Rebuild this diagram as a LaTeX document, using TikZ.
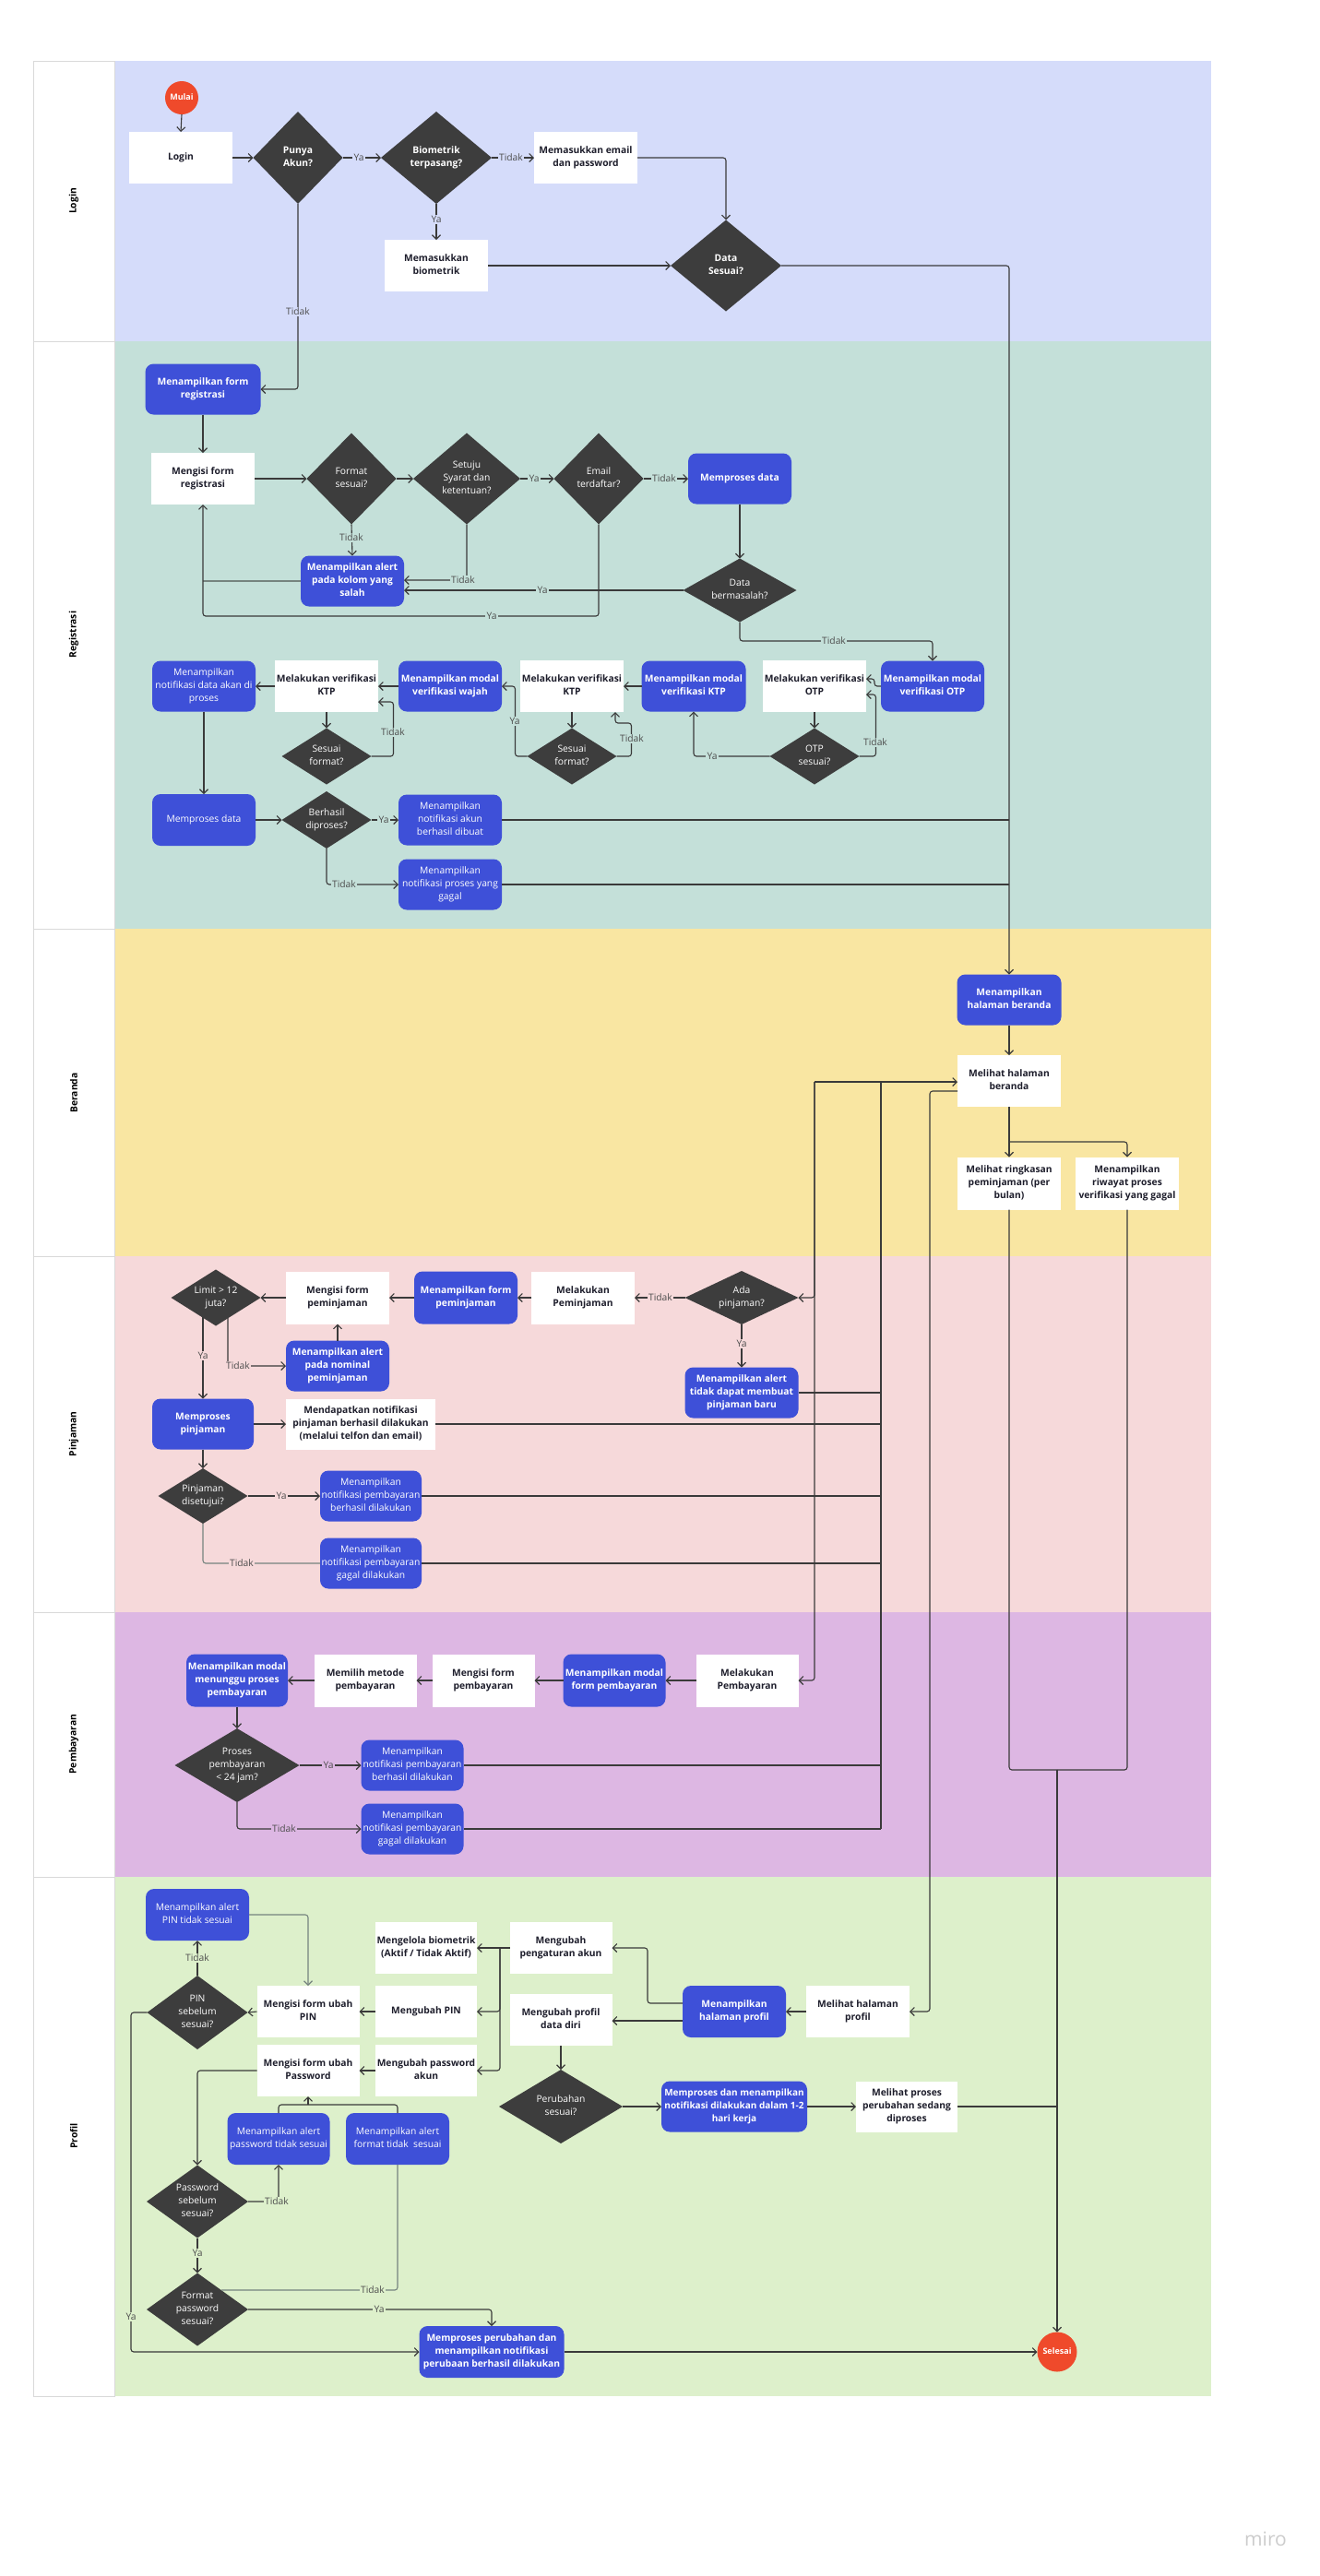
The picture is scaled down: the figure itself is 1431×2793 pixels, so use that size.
\documentclass[tikz,border=0pt]{standalone}
\usepackage{fontspec}
\setmainfont{Open Sans}
\usetikzlibrary{arrows.meta,shapes.geometric}

\definecolor{cLogin}{HTML}{D5DCFA}
\definecolor{cReg}{HTML}{C4E0D9}
\definecolor{cBer}{HTML}{F9E6A2}
\definecolor{cPin}{HTML}{F6D9DA}
\definecolor{cBay}{HTML}{DDB7E3}
\definecolor{cPro}{HTML}{DDF0CB}
\definecolor{cBlue}{HTML}{3E50D8}
\definecolor{cDia}{HTML}{3D3D3D}
\definecolor{cRed}{HTML}{EF4A2B}
\definecolor{cLine}{HTML}{3A3A3A}
\definecolor{cLite}{HTML}{76847F}
\definecolor{cTxt}{HTML}{1E1E2C}
\definecolor{cLbl}{HTML}{4D4D4D}

\newcommand\myfs{\fontsize{10.3}{14}\selectfont}
\newcommand\dtx[1]{\makebox[0pt]{\smash{\raisebox{-2.6pt}{\begin{tabular}{@{}c@{}}#1\end{tabular}}}}}

\tikzset{
  base/.style={inner sep=0pt, outer sep=0pt},
  wbox/.style={base, rectangle, fill=white, text=cTxt, font=\myfs\bfseries, minimum width=112pt, minimum height=56pt},
  bbox/.style={base, rectangle, rounded corners=9pt, fill=cBlue, text=white, font=\myfs\bfseries, minimum width=112pt, minimum height=55pt},
  bboxr/.style={bbox, font=\myfs},
  dia/.style={base, diamond, fill=cDia, text=white, font=\myfs},
  diab/.style={dia, font=\myfs\bfseries},
  circ/.style={base, circle, fill=cRed, text=white, font=\fontsize{9}{12}\selectfont\bfseries},
  ln/.style={draw=cLine, line width=1.1pt, rounded corners=3pt},
  arr/.style={ln, -{Straight Barb[length=4.5pt,width=9pt,line width=1.1pt]}},
  lite/.style={draw=cLite},
  lbl/.style={fill=#1, text=cLbl, font=\myfs, inner sep=1.2pt},
  lanelbl/.style={rotate=90, font=\myfs\bfseries, text=black},
}

\begin{document}
\begin{tikzpicture}[x=1pt,y=-1pt]
\useasboundingbox (0,0) rectangle (1431,2793);
\fill[white] (0,0) rectangle (1431,2793);

% lanes
\fill[cLogin] (124,66) rectangle (1313,370);
\fill[cReg] (124,370) rectangle (1313,1007);
\fill[cBer] (124,1007) rectangle (1313,1362);
\fill[cPin] (124,1362) rectangle (1313,1748);
\fill[cBay] (124,1748) rectangle (1313,2035);
\fill[cPro] (124,2035) rectangle (1313,2598);
\draw[gray!30, line width=0.6pt] (36,66) rectangle (124,2598);
\foreach \yy in {370,1007,1362,1748,2035} \draw[gray!30, line width=0.6pt] (36,\yy) -- (124,\yy);
\node[lanelbl] (lLogin) at (80,218) {Login};
\node[lanelbl] (lReg) at (80,688) {Registrasi};
\node[lanelbl] (lBer) at (80,1185) {Beranda};
\node[lanelbl] (lPin) at (80,1555) {Pinjaman};
\node[lanelbl] (lBay) at (80,1891) {Pembayaran};
\node[lanelbl] (lPro) at (80,2316) {Profil};

% ---------- Login nodes
\node[circ, minimum size=36pt] (mulai) at (197,106) {\dtx{Mulai}};
\node[wbox] (login) at (196,171) {\dtx{Login}};
\node[diab, minimum width=97pt, minimum height=100pt] (punya) at (323,171) {\dtx{Punya\\Akun?}};
\node[diab, minimum width=120pt, minimum height=100pt] (bio) at (473,171) {\dtx{Biometrik\\terpasang?}};
\node[wbox] (email) at (635,171) {\dtx{Memasukkan email\\dan password}};
\node[wbox] (mbio) at (473,288) {\dtx{Memasukkan\\biometrik}};
\node[diab, minimum width=120pt, minimum height=99pt] (datasesuai) at (787,288) {\dtx{Data\\Sesuai?}};

% ---------- Registrasi nodes
\node[bbox, minimum width=125pt] (formreg) at (220,422) {\dtx{Menampilkan form\\registrasi}};
\node[wbox] (isireg) at (220,519) {\dtx{Mengisi form\\registrasi}};
\node[dia, minimum width=97pt, minimum height=99pt] (fmt) at (381,519) {\dtx{Format\\sesuai?}};
\node[dia, minimum width=116pt, minimum height=99pt] (setuju) at (506,519) {\dtx{Setuju\\Syarat dan\\ketentuan?}};
\node[dia, minimum width=97pt, minimum height=99pt] (emailt) at (649,519) {\dtx{Email\\terdaftar?}};
\node[bbox] (alertkol) at (382,630) {\dtx{Menampilkan alert\\pada kolom yang\\salah}};
\node[bbox] (proses1) at (802,519) {\dtx{Memproses data}};
\node[dia, minimum width=123pt, minimum height=69pt] (bermasalah) at (802,640) {\dtx{Data\\bermasalah?}};

\node[bboxr] (notifdata) at (221,744) {\dtx{Menampilkan\\notifikasi data akan di\\proses}};
\node[wbox] (ktp1) at (354,744) {\dtx{Melakukan verifikasi\\KTP}};
\node[bbox] (wajah) at (488,744) {\dtx{Menampilkan modal\\verifikasi wajah}};
\node[wbox] (ktp2) at (620,744) {\dtx{Melakukan verifikasi\\KTP}};
\node[bbox, minimum width=113pt] (ktpmodal) at (752,744) {\dtx{Menampilkan modal\\verifikasi KTP}};
\node[wbox] (otp) at (883,744) {\dtx{Melakukan verifikasi\\OTP}};
\node[bbox] (otpmodal) at (1011,744) {\dtx{Menampilkan modal\\verifikasi OTP}};
\node[dia, minimum width=97pt, minimum height=61pt] (sf1) at (354,820) {\dtx{Sesuai\\format?}};
\node[dia, minimum width=97pt, minimum height=61pt] (sf2) at (620,820) {\dtx{Sesuai\\format?}};
\node[dia, minimum width=97pt, minimum height=61pt] (otps) at (883,820) {\dtx{OTP\\sesuai?}};
\node[bboxr, minimum height=56pt] (proses2) at (221,889) {\dtx{Memproses data}};
\node[dia, minimum width=97pt, minimum height=62pt] (berhasil) at (354,889) {\dtx{Berhasil\\diproses?}};
\node[bboxr] (akunok) at (488,889) {\dtx{Menampilkan\\notifikasi akun\\berhasil dibuat}};
\node[bboxr] (gagalreg) at (488,959) {\dtx{Menampilkan\\notifikasi proses yang\\gagal}};

% ---------- Beranda nodes
\node[bbox, minimum width=113pt] (beranda1) at (1094,1084) {\dtx{Menampilkan\\halaman beranda}};
\node[wbox] (beranda2) at (1094,1172) {\dtx{Melihat halaman\\beranda}};
\node[wbox, minimum height=57pt] (ringkas) at (1094,1283) {\dtx{Melihat ringkasan\\peminjaman (per\\bulan)}};
\node[wbox, minimum height=57pt] (riwayat) at (1222,1283) {\dtx{Menampilkan\\riwayat proses\\verifikasi yang gagal}};

% ---------- Pinjaman nodes
\node[dia, minimum width=123pt, minimum height=58pt] (ada) at (804,1407) {\dtx{Ada\\pinjaman?}};
\node[wbox, minimum height=57pt] (lakpinj) at (632,1407) {\dtx{Melakukan\\Peminjaman}};
\node[bbox, minimum height=57pt] (formpinj) at (505,1407) {\dtx{Menampilkan form\\peminjaman}};
\node[wbox, minimum height=57pt] (isipinj) at (366,1407) {\dtx{Mengisi form\\peminjaman}};
\node[dia, minimum width=97pt, minimum height=61pt] (limit) at (234,1407) {\dtx{Limit > 12\\juta?}};
\node[bbox] (alertnom) at (366,1481) {\dtx{Menampilkan alert\\pada nominal\\peminjaman}};
\node[bbox, minimum width=123pt] (alertpin) at (804,1510) {\dtx{Menampilkan alert\\tidak dapat membuat\\pinjaman baru}};
\node[bbox, minimum width=110pt] (prospinj) at (220,1544) {\dtx{Memproses\\pinjaman}};
\node[wbox, minimum width=162pt, minimum height=55pt] (dapatnotif) at (391,1544) {\dtx{Mendapatkan notifikasi\\pinjaman berhasil dilakukan\\(melalui telfon dan email)}};
\node[dia, minimum width=97pt, minimum height=60pt] (setujui) at (220,1622) {\dtx{Pinjaman\\disetujui?}};
\node[bboxr, minimum width=110pt] (bayarok1) at (402,1622) {\dtx{Menampilkan\\notifikasi pembayaran\\berhasil dilakukan}};
\node[bboxr, minimum width=110pt] (bayarno1) at (402,1695) {\dtx{Menampilkan\\notifikasi pembayaran\\gagal dilakukan}};

% ---------- Pembayaran nodes
\node[wbox, minimum width=111pt, minimum height=57pt] (mbayar) at (810,1822) {\dtx{Melakukan\\Pembayaran}};
\node[bbox, minimum width=111pt, minimum height=57pt] (modalbayar) at (666,1822) {\dtx{Menampilkan modal\\form pembayaran}};
\node[wbox, minimum width=111pt, minimum height=57pt] (isibayar) at (524,1822) {\dtx{Mengisi form\\pembayaran}};
\node[wbox, minimum width=111pt, minimum height=57pt] (metode) at (396,1822) {\dtx{Memilih metode\\pembayaran}};
\node[bbox, minimum width=110pt, minimum height=57pt] (tunggu) at (257,1822) {\dtx{Menampilkan modal\\menunggu proses\\pembayaran}};
\node[dia, minimum width=135pt, minimum height=80pt] (proses24) at (257,1914) {\dtx{Proses\\pembayaran\\< 24 jam?}};
\node[bboxr, minimum width=111pt] (bayarok2) at (447,1914) {\dtx{Menampilkan\\notifikasi pembayaran\\berhasil dilakukan}};
\node[bboxr, minimum width=111pt] (bayarno2) at (447,1983) {\dtx{Menampilkan\\notifikasi pembayaran\\gagal dilakukan}};

% ---------- Profil nodes
\node[bboxr, minimum height=56pt] (alertpinprof) at (214,2076) {\dtx{Menampilkan alert\\PIN tidak sesuai}};
\node[wbox, minimum width=110pt] (biom) at (462,2112) {\dtx{Mengelola biometrik\\(Aktif / Tidak Aktif)}};
\node[wbox, minimum width=111pt] (pengaturan) at (608,2112) {\dtx{Mengubah\\pengaturan akun}};
\node[wbox, minimum width=111pt] (isipin) at (334,2181) {\dtx{Mengisi form ubah\\PIN}};
\node[wbox, minimum width=110pt] (ubahpin) at (462,2181) {\dtx{Mengubah PIN}};
\node[wbox, minimum width=111pt] (profildiri) at (608,2190) {\dtx{Mengubah profil\\data diri}};
\node[bbox, minimum height=56pt] (halprofil) at (796,2181) {\dtx{Menampilkan\\halaman profil}};
\node[wbox] (lihatprofil) at (930,2181) {\dtx{Melihat halaman\\profil}};
\node[wbox, minimum width=111pt] (isipw) at (334,2245) {\dtx{Mengisi form ubah\\Password}};
\node[wbox, minimum width=110pt] (ubahpw) at (462,2245) {\dtx{Mengubah password\\akun}};
\node[dia, minimum width=109pt, minimum height=80pt] (pinsesuai) at (214,2182) {\dtx{PIN\\sebelum\\sesuai?}};
\node[dia, minimum width=134pt, minimum height=80pt] (perubahan) at (608,2284) {\dtx{Perubahan\\sesuai?}};
\node[bbox, minimum width=158pt, font=\fontsize{10}{14}\selectfont\bfseries] (prosesnotif) at (796,2284) {\dtx{Memproses dan menampilkan\\notifikasi dilakukan dalam 1-2\\hari kerja}};
\node[wbox, minimum width=110pt, minimum height=55pt] (lihatproses) at (983,2284) {\dtx{Melihat proses\\perubahan sedang\\diproses}};
\node[bboxr, minimum width=111pt, minimum height=56pt] (alertpw) at (302,2319) {\dtx{Menampilkan alert\\password tidak sesuai}};
\node[bboxr, minimum width=112pt, minimum height=56pt] (alertfmt) at (431,2319) {\dtx{Menampilkan alert\\format tidak\ \ sesuai}};
\node[dia, minimum width=110pt, minimum height=79pt] (pwsesuai) at (214,2387) {\dtx{Password\\sebelum\\sesuai?}};
\node[dia, minimum width=110pt, minimum height=79pt] (fmtpw) at (214,2504) {\dtx{Format\\password\\sesuai?}};
\node[bbox, minimum width=157pt, minimum height=56pt] (prosesubah) at (533,2550) {\dtx{Memproses perubahan dan\\menampilkan notifikasi\\perubaan berhasil dilakukan}};
\node[circ, minimum size=43pt] (selesai) at (1146,2550) {\dtx{Selesai}};

% ================= connectors
% Login
\draw[arr] (mulai.south) -- (login.north);
\draw[arr] (login.east) -- (punya.west);
\draw[arr] (punya.east) -- (bio.west);
\node[lbl=cLogin] (t1) at (389,171) {Ya};
\draw[arr] (bio.east) -- (email.west);
\node[lbl=cLogin] (t2) at (554,171) {Tidak};
\draw[arr] (bio.south) -- (mbio.north);
\node[lbl=cLogin] (t3) at (473,238) {Ya};
\draw[arr] (email.east) -| (datasesuai.north);
\draw[arr] (mbio.east) -- (datasesuai.west);
\draw[arr] (datasesuai.east) -| (beranda1.north);
\draw[arr] (punya.south) |- (formreg.east);
\node[lbl=cLogin] (t4) at (323,338) {Tidak};

% Registrasi
\draw[arr] (formreg.south) -- (isireg.north);
\draw[arr] (isireg.east) -- (fmt.west);
\draw[arr] (fmt.east) -- (setuju.west);
\draw[arr] (setuju.east) -- (emailt.west);
\node[lbl=cReg] (t5) at (579,519) {Ya};
\draw[arr] (emailt.east) -- (proses1.west);
\node[lbl=cReg] (t6) at (720,519) {Tidak};
\draw[arr] (fmt.south) -- (alertkol.north);
\node[lbl=cReg] (t7) at (381,583) {Tidak};
\draw[arr] (setuju.south) |- (alertkol.east |- 0,629);
\node[lbl=cReg] (t8) at (502,629) {Tidak};
\draw[arr] (bermasalah.west) -- (alertkol.east |- 0,640);
\node[lbl=cReg] (t9) at (588,640) {Ya};
\draw[ln,lite] (alertkol.west) -- (isireg.south |- 0,630);
\draw[arr] (emailt.south) |- (isireg.south |- 0,668) -- (isireg.south);
\node[lbl=cReg] (t10) at (533,668) {Ya};
\draw[arr] (proses1.south) -- (bermasalah.north);
\draw[arr] (bermasalah.south) |- (900,695) -| (otpmodal.north);
\node[lbl=cReg] (t11) at (904,695) {Tidak};

\draw[arr] (otpmodal.west) -- ++(-7,0) |- ([yshift=8pt]otp.east);
\draw[arr] (otp.south) -- (otps.north);
\draw[arr] (otps.east) -- ++(18,0) |- ([yshift=-9pt]otp.east);
\node[lbl=cReg] (t12) at (949,805) {Tidak};
\draw[arr] (otps.west) -| (ktpmodal.south);
\node[lbl=cReg] (t13) at (772,820) {Ya};
\draw[arr] (ktpmodal.west) -- (ktp2.east);
\draw[arr] (ktp2.south) -- (sf2.north);
\draw[arr] (sf2.east) -- ++(16,0) |- (667,784) -- (ktp2.south -| 667,0);
\node[lbl=cReg] (t14) at (685,801) {Tidak};
\draw[arr] (sf2.west) -- ++(-13,0) |- (wajah.east);
\node[lbl=cReg] (t15) at (558,782) {Ya};
\draw[arr] (wajah.west) -- (ktp1.east);
\draw[arr] (ktp1.south) -- (sf1.north);
\draw[arr] (sf1.east) -- ++(24,0) |- ([yshift=-17pt]ktp1.east);
\node[lbl=cReg] (t16) at (426,794) {Tidak};
\draw[arr] (ktp1.west) -- (notifdata.east);
\draw[arr] (notifdata.south) -- (proses2.north);
\draw[arr] (proses2.east) -- (berhasil.west);
\draw[arr] (berhasil.east) -- (akunok.west);
\node[lbl=cReg] (t17) at (416,889) {Ya};
\draw[arr] (berhasil.south) |- (gagalreg.west);
\node[lbl=cReg] (t18) at (373,959) {Tidak};
\draw[ln] (akunok.east) -- (1094,889);
\draw[ln] (gagalreg.east) -- (1094,959);

% Beranda
\draw[arr] (beranda1.south) -- (beranda2.north);
\draw[arr] (beranda2.south) -- (ringkas.north);
\draw[arr] (1094,1238) -| (riwayat.north);
\draw[ln] (ringkas.south) |- (1146,1919);
\draw[ln] (riwayat.south) |- (1146,1919);
\draw[arr] (1146,1919) -- (selesai.north);
\draw[ln] (955,1983) -- (955,1173);
\draw[arr] (883,1173) -- (beranda2.west |- 0,1173);
\draw[arr] (883,1173) |- (ada.east);
\draw[arr] (883,1173) |- (mbayar.east);
\draw[arr] (beranda2.west |- 0,1183) -- (1008,1183) |- (lihatprofil.east);

% Pinjaman
\draw[arr] (ada.west) -- (lakpinj.east);
\node[lbl=cPin] (t19) at (716,1407) {Tidak};
\draw[arr] (ada.south) -- (alertpin.north);
\node[lbl=cPin] (t20) at (804,1457) {Ya};
\draw[arr] (lakpinj.west) -- (formpinj.east);
\draw[arr] (formpinj.west) -- (isipinj.east);
\draw[arr] (isipinj.west) -- (limit.east);
\draw[arr] (alertnom.north) -- (isipinj.south);
\draw[arr] (247,1429) |- (alertnom.west);
\node[lbl=cPin] (t21) at (258,1481) {Tidak};
\draw[arr] (prospinj.north |- 0,1428) -- (prospinj.north);
\node[lbl=cPin] (t22) at (220,1470) {Ya};
\draw[arr] (prospinj.east) -- (dapatnotif.west);
\draw[arr] (prospinj.south) -- (setujui.north);
\draw[arr] (setujui.east) -- (bayarok1.west);
\node[lbl=cPin] (t23) at (305,1622) {Ya};
\draw[ln,lite] (setujui.south) |- (bayarno1.west);
\node[lbl=cPin] (t24) at (262,1695) {Tidak};
\draw[ln] (alertpin.east) -- (955,1510);
\draw[ln] (dapatnotif.east) -- (955,1544);
\draw[ln] (bayarok1.east) -- (955,1622);
\draw[ln] (bayarno1.east) -- (955,1695);

% Pembayaran
\draw[arr] (mbayar.west) -- (modalbayar.east);
\draw[arr] (modalbayar.west) -- (isibayar.east);
\draw[arr] (isibayar.west) -- (metode.east);
\draw[arr] (metode.west) -- (tunggu.east);
\draw[arr] (tunggu.south) -- (proses24.north);
\draw[arr] (proses24.east) -- (bayarok2.west);
\node[lbl=cBay] (t25) at (356,1914) {Ya};
\draw[arr] (proses24.south) |- (bayarno2.west);
\node[lbl=cBay] (t26) at (308,1983) {Tidak};
\draw[ln] (bayarok2.east) -- (955,1914);
\draw[ln] (bayarno2.east) -- (955,1983);

% Profil
\draw[arr] (lihatprofil.west) -- (halprofil.east);
\draw[arr] ([yshift=9pt]halprofil.west) -- (702,2172) |- (pengaturan.east);
\draw[arr] ([yshift=-10pt]halprofil.west) -- (profildiri.east |- 0,2191);
\draw[arr] (pengaturan.west) -- (biom.east);
\draw[arr] (542,2112) |- (ubahpin.east);
\draw[arr] (542,2112) |- (ubahpw.east);
\draw[arr] (ubahpin.west) -- (isipin.east);
\draw[arr] (isipin.west) -- (pinsesuai.east);
\draw[arr] (pinsesuai.north) -- (alertpinprof.south);
\node[lbl=cPro] (t27) at (214,2123) {Tidak};
\draw[arr,lite] (alertpinprof.east) -| (isipin.north);
\draw[arr] (pinsesuai.west) -- (142,2182) |- (prosesubah.west);
\node[lbl=cPro] (t28) at (142,2512) {Ya};
\draw[arr] (ubahpw.west) -- (isipw.east);
\draw[arr] (isipw.west) -| (pwsesuai.north);
\draw[ln] (alertpw.north) |- (334,2282);
\draw[ln] (alertfmt.north) |- (334,2282);
\draw[arr] (334,2282) -- (isipw.south);
\draw[arr] (pwsesuai.east) -| (alertpw.south);
\node[lbl=cPro] (t29) at (300,2387) {Tidak};
\draw[arr] (pwsesuai.south) -- (fmtpw.north);
\node[lbl=cPro] (t30) at (214,2443) {Ya};
\draw[ln,lite] (240,2483) -| (alertfmt.south);
\node[lbl=cPro] (t31) at (404,2483) {Tidak};
\draw[arr] (fmtpw.east) -| (prosesubah.north);
\node[lbl=cPro] (t32) at (411,2504) {Ya};
\draw[arr] (prosesubah.east) -- (selesai.west);
\draw[arr] (profildiri.south) -- (perubahan.north);
\draw[arr] (perubahan.east) -- (prosesnotif.west);
\draw[arr] (prosesnotif.east) -- (lihatproses.west);
\draw[ln] (lihatproses.east) -- (1146,2284);

\node[text=gray!40, font=\fontsize{21}{24}\selectfont] (miro) at (1372,2753) {miro};
\end{tikzpicture}
\end{document}
